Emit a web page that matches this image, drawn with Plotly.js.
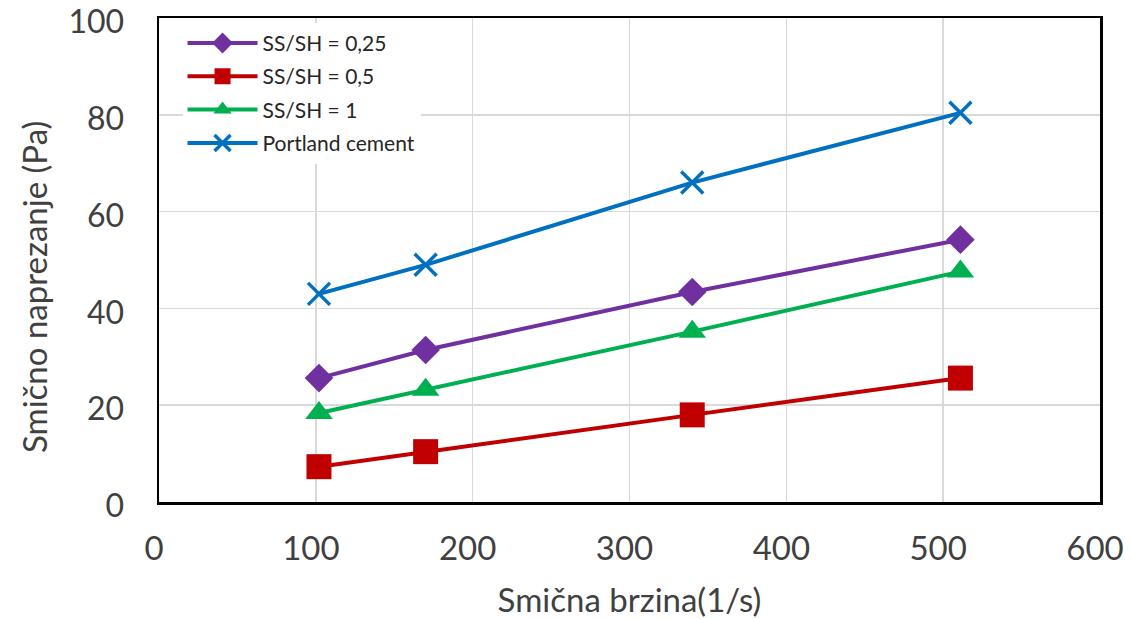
<!DOCTYPE html>
<html>
<head>
<meta charset="utf-8">
<script src="https://cdn.plot.ly/plotly-3.0.1.min.js"></script>
<style>html,body{margin:0;padding:0;background:#fff;}#chart{width:1132px;height:619px;}</style>
</head>
<body>
<div id="chart"></div>
<script>
const shearRate = [102, 170, 340, 511];
const seriesNames = ["SS/SH = 0,25", "SS/SH = 0,5", "SS/SH = 1", "Portland cement"];
const ssSh025 = [25.6, 31.4, 43.4, 54.2];
const ssSh05 = [7.3, 10.4, 18.0, 25.6];
const ssSh1 = [18.4, 23.2, 35.2, 47.6];
const portland = [43.0, 49.0, 66.0, 80.4];
const xTicks = [0, 100, 200, 300, 400, 500, 600];
const yTicks = [0, 20, 40, 60, 80, 100];
const xTitle = "Smična brzina(1/s)";
const yTitle = "Smično naprezanje (Pa)";

const colors = ["#7030A0", "#C00000", "#00B050", "#0070C0"];
const symbols = ["diamond", "square", "triangle-up", "x-thin"];
const sizes = [22, 25, 24, 22];
const values = [ssSh025, ssSh05, ssSh1, portland];

const traces = values.map((v, i) => ({
  type: "scatter",
  mode: "lines+markers",
  name: seriesNames[i],
  legendgroup: "g" + i,
  x: shearRate,
  y: v,
  line: {color: colors[i], width: 4},
  marker: {
    symbol: symbols[i],
    size: sizes[i],
    color: colors[i],
    line: {color: colors[i], width: i === 3 ? 3.5 : 0}
  }
}));

const fontFam = "Lato, 'Open Sans', sans-serif";
const layout = {
  width: 1132,
  height: 619,
  margin: {l: 159, r: 32, t: 18, b: 117},
  paper_bgcolor: "#ffffff",
  plot_bgcolor: "#ffffff",
  font: {family: fontFam, color: "#404040"},
  showlegend: true,
  legend: {
    x: 0.025, y: 0.99, xanchor: "left", yanchor: "top",
    bgcolor: "#ffffff",
    borderwidth: 0,
    font: {size: 21, family: fontFam, color: "#262626"},
    traceorder: "grouped",
    tracegroupgap: 3,
    itemwidth: 70
  },
  xaxis: {
    range: [0, 600],
    tickvals: xTicks,
    ticktext: xTicks.map(String),
    showgrid: true,
    gridcolor: "#d9d9d9",
    gridwidth: 1.5,
    zeroline: false,
    showline: true,
    linecolor: "#000000",
    linewidth: 2.5,
    mirror: true,
    ticks: "",
    ticklabelstandoff: 16,
    ticklabelshift: -5,
    ticklabeloverflow: "allow",
    tickfont: {size: 33, color: "#404040"},
    title: {text: xTitle, font: {size: 33, color: "#404040"}, standoff: 26}
  },
  yaxis: {
    range: [0, 100],
    tickvals: yTicks,
    ticktext: yTicks.map(String),
    showgrid: true,
    gridcolor: "#d9d9d9",
    gridwidth: 1.5,
    zeroline: false,
    showline: true,
    linecolor: "#000000",
    linewidth: 2.5,
    mirror: true,
    ticks: "",
    ticklabelstandoff: 26,
    ticklabelshift: 4,
    ticklabeloverflow: "allow",
    tickfont: {size: 32, color: "#404040"},
    title: {text: ""}
  },
  annotations: [{
    text: yTitle,
    textangle: -90,
    xref: "paper", yref: "paper",
    x: 0, xshift: -125, xanchor: "center",
    y: 0.5, yshift: -27, yanchor: "middle",
    showarrow: false,
    font: {size: 33, color: "#404040", family: fontFam}
  }]
};

Plotly.newPlot("chart", traces, layout, {displayModeBar: false, staticPlot: true});
</script>
</body>
</html>
